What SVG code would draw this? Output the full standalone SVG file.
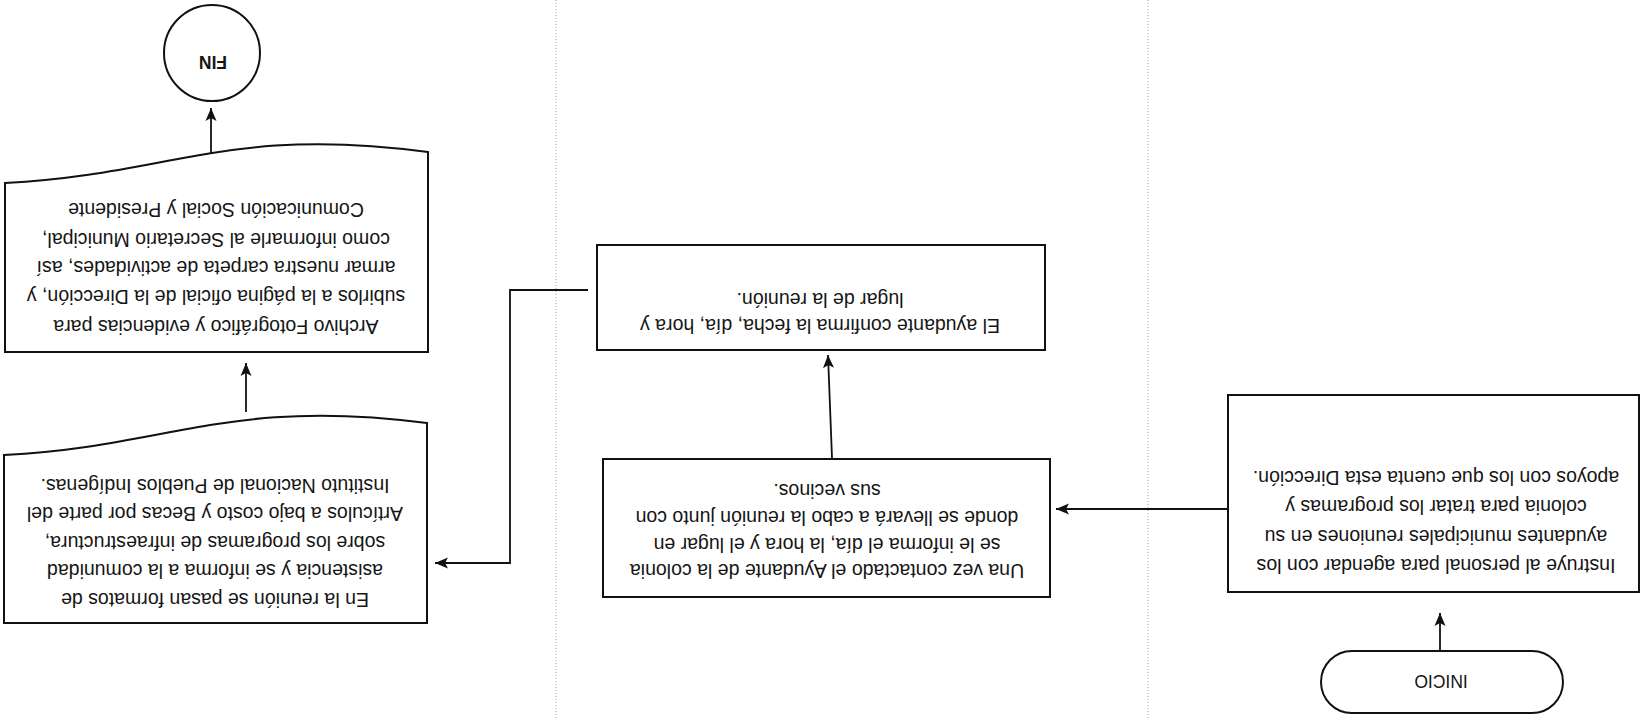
<svg xmlns="http://www.w3.org/2000/svg" width="1644" height="720" viewBox="0 0 1644 720">
<style>
.bg{fill:#ffffff}
.lane{stroke:#b8b8b8;stroke-width:1.2;stroke-dasharray:1 2;fill:none}
.box{fill:#ffffff;stroke:#111;stroke-width:2}
.t{font-family:"Liberation Sans",Arial,sans-serif;font-size:19.5px;fill:#151515;text-anchor:middle;dominant-baseline:central}
.lbl{font-family:"Liberation Sans",Arial,sans-serif;font-size:17.5px;fill:#151515;text-anchor:middle;dominant-baseline:central}
.edge{fill:none;stroke:#111;stroke-width:1.8;marker-end:url(#arr)}
</style>
<defs>
<marker id="arr" markerUnits="userSpaceOnUse" markerWidth="14" markerHeight="12" refX="13" refY="6" orient="auto">
<path d="M0,0.5 L13,6 L0,11.5 L3,6 Z" fill="#111"/>
</marker>
</defs>
<rect class="bg" x="0" y="0" width="1644" height="720"/>
<g id="lanes">
<line class="lane" x1="556" y1="0" x2="556" y2="720"/>
<line class="lane" x1="1148" y1="0" x2="1148" y2="720"/>
</g>
<g id="connectors">
<line class="edge" x1="1440" y1="651" x2="1440" y2="613"/>
<line class="edge" x1="1228" y1="509" x2="1056" y2="509"/>
<line class="edge" x1="832" y1="458" x2="828" y2="355"/>
<polyline class="edge" points="588,290 510,290 510,563 435,563"/>
<line class="edge" x1="246" y1="412" x2="246" y2="363"/>
<line class="edge" x1="211" y1="155" x2="211" y2="108"/>
</g>
<g id="inicio">
<rect class="box" x="1321" y="651" width="242" height="62" rx="31" ry="31"/>
<text class="lbl" x="1441" y="681" transform="rotate(180 1441 681)">INICIO</text>
</g>
<g id="instruye">
<rect class="box" x="1228" y="395" width="411" height="197"/>
<text class="t" x="1436" y="566" transform="rotate(180 1436 566)">Instruye al personal para agendar con los</text>
<text class="t" x="1436" y="537" transform="rotate(180 1436 537)">ayudantes municipales reuniones en su</text>
<text class="t" x="1436" y="507" transform="rotate(180 1436 507)">colonia para tratar los programas y</text>
<text class="t" x="1436" y="478" transform="rotate(180 1436 478)">apoyos con los que cuenta esta Dirección.</text>
</g>
<g id="contactado">
<rect class="box" x="603" y="459" width="447" height="138"/>
<text class="t" x="827" y="571" transform="rotate(180 827 571)">Una vez contactado el Ayudante de la colonia</text>
<text class="t" x="827" y="545" transform="rotate(180 827 545)">se le informa el día, la hora y el lugar en</text>
<text class="t" x="827" y="518" transform="rotate(180 827 518)">donde se llevará a cabo la reunión junto con</text>
<text class="t" x="827" y="491" transform="rotate(180 827 491)">sus vecinos.</text>
</g>
<g id="confirma">
<rect class="box" x="597" y="245" width="448" height="105"/>
<text class="t" x="820" y="326" transform="rotate(180 820 326)">El ayudante confirma la fecha, día, hora y</text>
<text class="t" x="820" y="300" transform="rotate(180 820 300)">lugar de la reunión.</text>
</g>
<g id="reunion">
<path class="box" d="M4,455 C169,447 229,397 427,423 L427,623 L4,623 Z"/>
<text class="t" x="215" y="600" transform="rotate(180 215 600)">En la reunión se pasan formatos de</text>
<text class="t" x="215" y="571" transform="rotate(180 215 571)">asistencia y se informa a la comunidad</text>
<text class="t" x="215" y="543" transform="rotate(180 215 543)">sobre los programas de infraestructura,</text>
<text class="t" x="215" y="514" transform="rotate(180 215 514)">Artículos a bajo costo y Becas por parte del</text>
<text class="t" x="215" y="486" transform="rotate(180 215 486)">Instituto Nacional de Pueblos Indígenas.</text>
</g>
<g id="archivo">
<path class="box" d="M5,183 C170,175 230,125 428,152 L428,352 L5,352 Z"/>
<text class="t" x="216" y="327" transform="rotate(180 216 327)">Archivo Fotográfico y evidencias para</text>
<text class="t" x="216" y="297" transform="rotate(180 216 297)">subirlos a la página oficial de la Dirección, y</text>
<text class="t" x="216" y="268" transform="rotate(180 216 268)">armar nuestra carpeta de actividades, así</text>
<text class="t" x="216" y="240" transform="rotate(180 216 240)">como informarle al Secretario Municipal,</text>
<text class="t" x="216" y="210" transform="rotate(180 216 210)">Comunicación Social y Presidente</text>
</g>
<g id="fin">
<circle class="box" cx="212" cy="53" r="48"/>
<text class="lbl" x="213" y="62" transform="rotate(180 213 62)" font-size="15" font-weight="bold">FIN</text>
</g>
</svg>
